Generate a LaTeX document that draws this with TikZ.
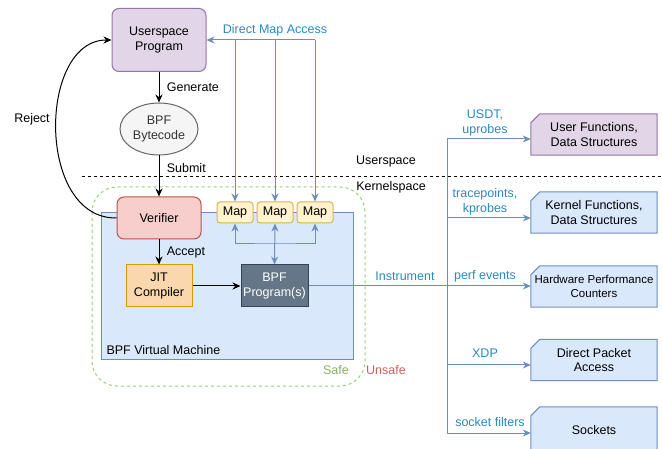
\documentclass[tikz,border=0pt]{standalone}
\usepackage{fontspec}
\setmainfont{Liberation Sans}
\usepackage{tikz}
\usetikzlibrary{arrows.meta,shapes.geometric,backgrounds}
\usepackage{xcolor}
\definecolor{purpfill}{HTML}{E1D5E7}
\definecolor{purpline}{HTML}{9673A6}
\definecolor{greyfill}{HTML}{F5F5F5}
\definecolor{greyline}{HTML}{666666}
\definecolor{redfill}{HTML}{F8CECC}
\definecolor{redline}{HTML}{B85450}
\definecolor{orfill}{HTML}{FAD7AC}
\definecolor{orline}{HTML}{D79B00}
\definecolor{darkfill}{HTML}{647687}
\definecolor{darkline}{HTML}{314354}
\definecolor{yelfill}{HTML}{FFF2CC}
\definecolor{yelline}{HTML}{D6B656}
\definecolor{bluefill}{HTML}{DAE8FC}
\definecolor{blueline}{HTML}{6C8EBF}
\definecolor{safegreen}{HTML}{97D077}
\definecolor{unsafered}{HTML}{D0605E}
\definecolor{lblblue}{HTML}{2A88BD}

\tikzset{
  txt/.style={font=\fontsize{12.5}{14.5}\selectfont, align=center},
  box/.style={txt, draw, line width=1pt, inner sep=0pt},
  rbox/.style={box, rounded corners=7pt},
  card/.style={txt, inner sep=0pt, minimum width=126pt, minimum height=41pt},
  lbl/.style={txt, text=lblblue, inner sep=0pt},
  arr/.style={line width=1pt, -{Stealth[length=8pt,width=7pt]}},
  barr/.style={arr, draw=blueline},
}

\begin{document}
\begin{tikzpicture}[x=1pt,y=-1pt]
\useasboundingbox (0,0) rectangle (662,449);
\clip (0,0) rectangle (662,449);

\draw[dashed, safegreen, line width=1pt, dash pattern=on 3pt off 3pt, rounded corners=25pt] (92,187) rectangle (365,386);
\node[draw=blueline, fill=bluefill, line width=1pt, minimum width=252pt, minimum height=147pt, inner sep=0pt] (vm) at (227,286.5) {};
\node[txt, anchor=west] (vmlbl) at (103,350) {BPF Virtual Machine};
\node[txt, text=safegreen!85!black] (safe) at (336,370) {Safe};
\node[txt, text=unsafered] (unsafe) at (386,370) {Unsafe};

\draw[dashed, line width=1pt, dash pattern=on 3pt off 3pt] (82,177) -- (662,177);
\node[txt] (us) at (386,161) {Userspace};
\node[txt] (ks) at (391,187) {Kernelspace};

\node[rbox, fill=purpfill, draw=purpline, minimum width=94pt, minimum height=63pt] (usr) at (159,40) {Userspace\\Program};
\node[box, ellipse, fill=greyfill, draw=greyline, text=black!80, minimum width=78pt, minimum height=52pt] (bc) at (159,129) {BPF\\Bytecode};
\node[rbox, fill=redfill, draw=redline, minimum width=84pt, minimum height=42pt] (ver) at (159,218) {Verifier};
\node[box, fill=orfill, draw=orline, minimum width=66pt, minimum height=42pt] (jit) at (159,286) {JIT\\Compiler};
\node[box, fill=darkfill, draw=darkline, text=white, minimum width=67pt, minimum height=42pt] (prog) at (274.5,286) {BPF\\Program(s)};
\foreach \i/\x in {1/235,2/275,3/315}
  \node[box, rounded corners=3pt, fill=yelfill, draw=yelline, minimum width=36pt, minimum height=21pt] (m\i) at (\x,212.5) {Map};

\draw[arr] (usr) -- node[txt, right=4pt] (gen) {Generate} (bc);
\draw[arr] (bc) -- node[txt, right=4pt, pos=0.3] (sub) {Submit} (ver);
\draw[arr] (ver) -- node[txt, right=4pt] (acc) {Accept} (jit);
\draw[arr] (jit) -- (prog);
\draw[arr] (ver.west) .. controls (36,219) and (38,40) .. (usr.west);
\node[txt] (rej) at (32,119) {Reject};

\draw[barr] (m3.north |- usr.east) -- (usr.east);
\foreach \i in {1,2,3}
  \draw[barr] (m\i.north |- usr.east) -- (m\i.north);
\node[lbl] (dma) at (275,30) {Direct Map Access};
\coordinate (mj) at (275,244);
\draw[barr, {Stealth[length=8pt,width=7pt]}-{Stealth[length=8pt,width=7pt]}] (m1.south) |- (mj) -| (m3.south);
\draw[barr, {Stealth[length=8pt,width=7pt]}-{Stealth[length=8pt,width=7pt]}] (m2.south) -- (prog.north);

\node[card] (ufun) at (594,134.5) {User Functions,\\Data Structures};
\node[card] (kfun) at (594,212.5) {Kernel Functions,\\Data Structures};
\node[card, font=\fontsize{11.5}{13.5}\selectfont] (hw) at (594,286.5) {Hardware Performance\\Counters};
\node[card] (pkt) at (594,360) {Direct Packet\\Access};
\node[card, minimum height=46pt] (sock) at (594,430) {Sockets};
\begin{scope}[on background layer]
\foreach \n/\f/\d in {ufun/purpfill/purpline,kfun/bluefill/blueline,hw/bluefill/blueline,pkt/bluefill/blueline,sock/bluefill/blueline}
  \filldraw[fill=\f, draw=\d, line width=1pt] (\n.south west) -- ([yshift=-9pt]\n.north west) -- ([xshift=9pt]\n.north west) -- (\n.north east) -- (\n.south east) -- cycle;
\end{scope}

\coordinate (b1) at (447,139);
\coordinate (b2) at (447,218);
\coordinate (b4) at (447,365);
\coordinate (b5) at (447,433);
\draw[blueline, line width=1pt] (b1) -- (b5);
\draw[barr] (prog.east) -- (prog.east -| hw.west);
\foreach \b/\n in {b1/ufun,b2/kfun,b4/pkt,b5/sock}
  \draw[barr] (\b) -- (\b -| \n.west);

\node[lbl] (instr) at (405,276) {Instrument};
\node[lbl] (usdt) at (485,123) {USDT,\\uprobes};
\node[lbl] (tp) at (485,202) {tracepoints,\\kprobes};
\node[lbl] (perf) at (485,276) {perf events};
\node[lbl] (xdp) at (485,353) {XDP};
\node[lbl] (sockf) at (490,422) {socket filters};
\end{tikzpicture}
\end{document}
